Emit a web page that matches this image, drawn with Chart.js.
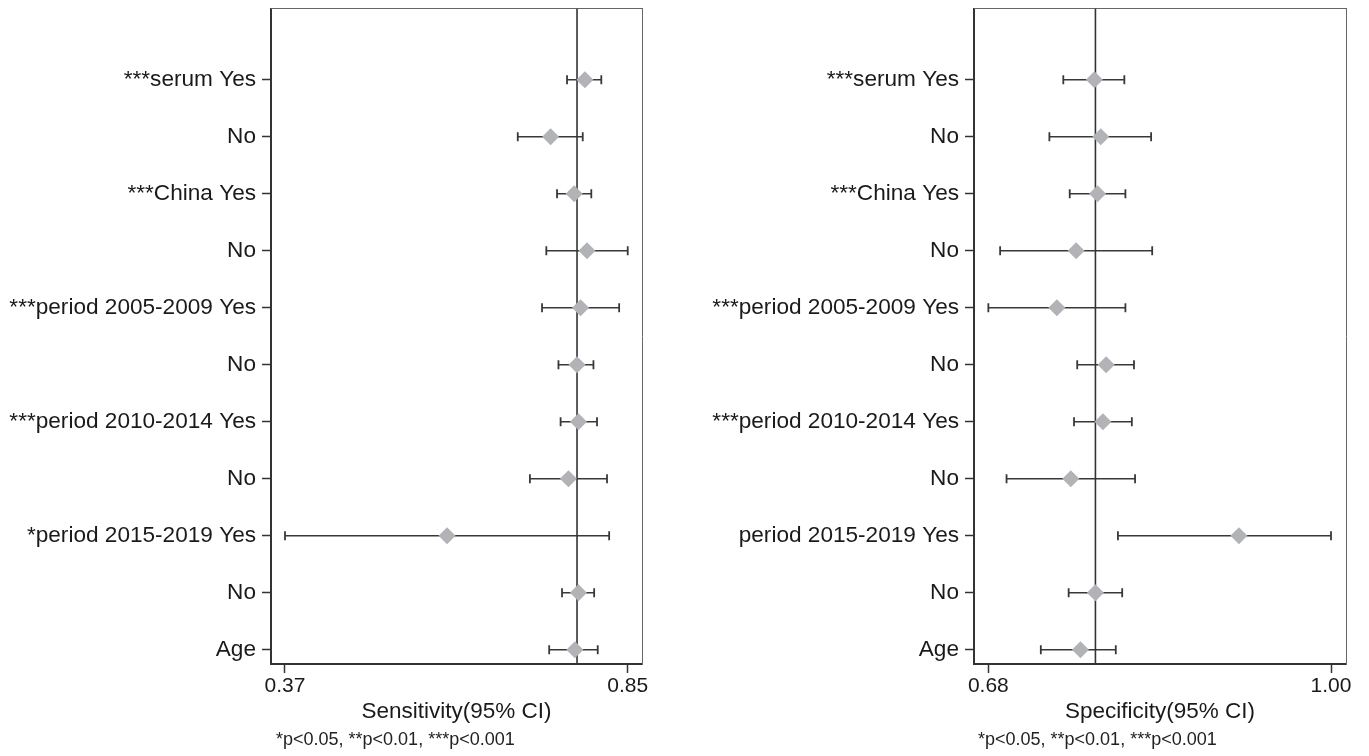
<!DOCTYPE html>
<html>
<head>
<meta charset="utf-8">
<title>Sensitivity / Specificity forest plots</title>
<script src="https://cdn.jsdelivr.net/npm/chart.js@4.4.1/dist/chart.umd.min.js"></script>
<style>
  html, body { margin: 0; padding: 0; background: #fff; }
  body { width: 1369px; height: 756px; position: relative; overflow: hidden;
         font-family: "Liberation Sans", Arial, sans-serif; }
  .panel { position: absolute; top: 0; height: 756px; }
  .note { position: absolute; top: 729px; font-size: 18px; color: #222; white-space: nowrap; }
</style>
</head>
<body>
<div class="panel" style="left:0;width:665px"><canvas id="sensChart"></canvas></div>
<div class="panel" style="left:700px;width:669px"><canvas id="specChart"></canvas></div>
<div class="note" style="left:276px">*p&lt;0.05, **p&lt;0.01, ***p&lt;0.001</div>
<div class="note" style="left:978px">*p&lt;0.05, **p&lt;0.01, ***p&lt;0.001</div>

<script>
// Row labels, top to bottom
const sensLabels = ["***serum Yes", "No", "***China Yes", "No", "***period 2005-2009 Yes", "No",
    "***period 2010-2014 Yes", "No", "*period 2015-2019 Yes", "No", "Age"];
const specLabels = ["***serum Yes", "No", "***China Yes", "No", "***period 2005-2009 Yes", "No",
    "***period 2010-2014 Yes", "No", "period 2015-2019 Yes", "No", "Age"];

// Sensitivity (95% CI)
const sensEst  = [0.790, 0.742, 0.775, 0.793, 0.784, 0.779, 0.781, 0.767, 0.597, 0.781, 0.776];
const sensLow  = [0.765, 0.696, 0.751, 0.736, 0.730, 0.753, 0.756, 0.713, 0.370, 0.758, 0.740];
const sensHigh = [0.813, 0.787, 0.799, 0.850, 0.838, 0.802, 0.807, 0.821, 0.824, 0.803, 0.808];
const sensRef = 0.779;
const sensTicks = [0.37, 0.85];

// Specificity (95% CI)
const specEst  = [0.779, 0.785, 0.782, 0.762, 0.744, 0.790, 0.787, 0.757, 0.914, 0.780, 0.766];
const specLow  = [0.750, 0.737, 0.756, 0.691, 0.680, 0.763, 0.760, 0.697, 0.801, 0.755, 0.729];
const specHigh = [0.807, 0.832, 0.808, 0.833, 0.808, 0.816, 0.814, 0.817, 1.000, 0.805, 0.799];
const specRef = 0.780;
const specTicks = [0.68, 1.00];

const FONT = "'Liberation Sans', Arial, Helvetica, sans-serif";
const TEXT = "#1a1a1a";
const AXIS = "#333333";
const BAR = "#383838";
const DIAMOND = "#b2b3b6";
const Y_MIN = 0.75, Y_MAX = 12.25;

function buildForest(canvasId, labels, est, low, high, ref, xMin, xMax, xTicks, title, yWidth) {
    const n = labels.length;
    const rowPos = labels.map((_, i) => n - i);

    const datasets = [];
    // confidence intervals with end caps
    labels.forEach((_, i) => {
        datasets.push({
            type: "line",
            xAxisID: "x", yAxisID: "y",
            data: [{ x: low[i], y: rowPos[i] }, { x: high[i], y: rowPos[i] }],
            showLine: true,
            borderColor: BAR,
            borderWidth: 1.6,
            pointStyle: "line",
            rotation: 90,
            pointRadius: 4.5,
            pointBorderWidth: 1.8,
            pointBorderColor: BAR,
            order: 2,
        });
    });
    // pooled reference line
    datasets.push({
        type: "line",
        xAxisID: "x", yAxisID: "y",
        data: [{ x: ref, y: Y_MIN }, { x: ref, y: Y_MAX }],
        showLine: true,
        borderColor: AXIS,
        borderWidth: 1.6,
        pointRadius: 0,
        order: 1,
    });
    // point estimates
    datasets.push({
        type: "scatter",
        xAxisID: "x", yAxisID: "y",
        data: est.map((v, i) => ({ x: v, y: rowPos[i] })),
        pointStyle: "rectRot",
        pointRadius: 8.5,
        backgroundColor: DIAMOND,
        borderWidth: 0,
        order: 0,
    });

    return new Chart(document.getElementById(canvasId), {
        type: "scatter",
        data: { datasets: datasets },
        options: {
            responsive: true,
            maintainAspectRatio: false,
            animation: false,
            events: [],
            layout: { padding: { top: 8, right: 23, bottom: 0, left: 0 } },
            plugins: { legend: { display: false }, tooltip: { enabled: false } },
            scales: {
                x: {
                    type: "linear",
                    position: "bottom",
                    min: xMin,
                    max: xMax,
                    afterBuildTicks: (s) => { s.ticks = xTicks.map((v) => ({ value: v })); },
                    afterFit: (s) => { s.height = 92; s.paddingLeft = 0; s.paddingRight = 0; },
                    ticks: {
                        autoSkip: false, maxRotation: 0, minRotation: 0, padding: 1,
                        color: TEXT,
                        font: { family: FONT, size: 21 },
                        callback: (v) => Number(v).toFixed(2),
                    },
                    grid: { drawOnChartArea: false, drawTicks: true, tickLength: 9, tickColor: AXIS, tickWidth: 1.5 },
                    border: { color: AXIS, width: 2 },
                    title: {
                        display: true, text: title, color: TEXT,
                        font: { family: FONT, size: 22.5 },
                        padding: { top: 0, bottom: 31 },
                    },
                },
                y: {
                    type: "linear",
                    position: "left",
                    min: Y_MIN,
                    max: Y_MAX,
                    afterBuildTicks: (s) => { s.ticks = rowPos.map((v) => ({ value: v })); },
                    afterFit: (s) => { s.width = yWidth; s.paddingTop = 0; s.paddingBottom = 0; },
                    ticks: {
                        autoSkip: false, padding: 6,
                        color: TEXT,
                        font: { family: FONT, size: 22.6 },
                        callback: (v) => labels[n - Math.round(v)],
                    },
                    grid: { drawOnChartArea: false, drawTicks: true, tickLength: 9, tickColor: AXIS, tickWidth: 1.5 },
                    border: { color: AXIS, width: 2 },
                },
                // thin frame on top and right
                x2: {
                    type: "linear", position: "top", display: true,
                    ticks: { display: false }, grid: { display: false },
                    border: { color: "#666", width: 1 },
                    afterFit: (s) => { s.height = 0; s.paddingLeft = 0; s.paddingRight = 0; },
                },
                y2: {
                    type: "linear", position: "right", display: true,
                    ticks: { display: false }, grid: { display: false },
                    border: { color: "#666", width: 1 },
                    afterFit: (s) => { s.width = 0; s.paddingTop = 0; s.paddingBottom = 0; },
                },
            },
        },
    });
}

buildForest("sensChart", sensLabels, sensEst, sensLow, sensHigh, sensRef,
    0.3504, 0.870, sensTicks, "Sensitivity(95% CI)", 271);
buildForest("specChart", specLabels, specEst, specLow, specHigh, specRef,
    0.6666, 1.014, specTicks, "Specificity(95% CI)", 274);
</script>
</body>
</html>
